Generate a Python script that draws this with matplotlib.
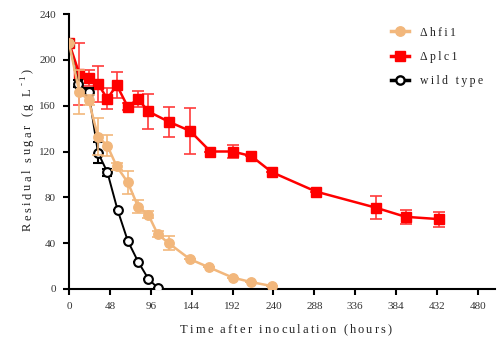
import matplotlib
matplotlib.use("Agg")
import matplotlib.pyplot as plt
from matplotlib.font_manager import FontProperties
from matplotlib.transforms import IdentityTransform
from matplotlib.lines import Line2D

# ---- data ----
plc1_t = [0, 12, 23, 34, 45, 56, 69, 81, 93, 117, 142, 166, 192, 214, 238, 290, 360, 395, 434]
plc1_v = [215, 188, 184, 179, 166, 178, 159, 166, 155, 146, 138, 120, 120, 116, 102, 85, 71, 63, 61]
plc1_e = [0, 27, 7, 16, 9, 11, 3, 7, 15, 13, 20, 0, 6, 0, 0, 0, 10, 6, 6.5]

hfi1_t = [0, 12, 23, 34, 45, 56, 69, 81, 93, 104, 117, 142, 164, 192, 214, 238]
hfi1_v = [215, 172, 165, 133, 125, 107, 93, 72, 65, 48, 40, 26, 19, 10, 6, 2.6]
hfi1_e = [0, 19, 4, 16, 9, 3, 10, 6, 3, 3, 6, 0, 0, 0, 0, 0]

wt_t = [0, 11, 23, 34, 45, 57, 69, 81, 93, 104]
wt_v = [215, 179, 172, 119, 102, 69, 42, 24, 9, 1]
wt_e = [0, 3, 3, 9, 3, 0, 0, 0, 0, 0]

x_ticks = [0, 48, 96, 144, 192, 240, 288, 336, 384, 432, 480]
y_ticks = [0, 40, 80, 120, 160, 200, 240]

labels = ["\u0394hfi1", "\u0394plc1", "wild type"]
x_label = "Time after inoculation (hours)"

RED = "#FF0000"
TAN = "#F2B77C"

SERIF = ["Liberation Serif", "DejaVu Serif"]

W, H = 497, 343
fig = plt.figure(figsize=(W / 100, H / 100), dpi=100)
ax = fig.add_axes([69 / W, 54 / H, 426 / W, 275 / H])

ax.errorbar(plc1_t, plc1_v, yerr=plc1_e, color=RED, lw=1.8, marker="s", ms=7.5,
            mec=RED, mfc=RED, ecolor="#FF3B3B", elinewidth=1.2, capsize=4,
            capthick=1.2, zorder=3, label=labels[1])
ax.errorbar(wt_t, wt_v, yerr=wt_e, color="black", lw=1.4, marker="o", ms=6.3,
            mec="black", mfc="white", mew=1.5, ecolor="black", elinewidth=1.5,
            capsize=3.5, capthick=2.5, zorder=4, label=labels[2])
ax.errorbar(hfi1_t, hfi1_v, yerr=hfi1_e, color=TAN, lw=1.8, marker="o", ms=6.8,
            mec=TAN, mfc=TAN, ecolor=TAN, elinewidth=1.2, capsize=4,
            capthick=1.2, zorder=5, label=labels[0])

ax.set_xlim(0, 500)
ax.set_ylim(0, 240)
ax.set_xticks(x_ticks)
ax.set_yticks(y_ticks)
for s in ["top", "right"]:
    ax.spines[s].set_visible(False)
for s in ["left", "bottom"]:
    ax.spines[s].set_linewidth(1.5)
    ax.spines[s].set_color("black")
ax.tick_params(direction="out", length=4.5, width=1.5, color="black",
               labelsize=8, labelcolor="#333333", pad=5)
for lab in ax.get_xticklabels() + ax.get_yticklabels():
    lab.set_family(SERIF)

# ---- legend ----
sp = "\u2009"
handles = [
    Line2D([], [], color=TAN, lw=2.5, marker="o", ms=6.8, mfc=TAN, mec=TAN),
    Line2D([], [], color=RED, lw=2.5, marker="s", ms=7, mfc=RED, mec=RED),
    Line2D([], [], color="black", lw=2.5, marker="o", ms=6, mfc="white", mec="black", mew=1.7),
]
leg = ax.legend(handles, [sp.join(l) for l in labels], loc="upper left",
                bbox_to_anchor=(0.73, 0.993), frameon=False, handlelength=1.6,
                handletextpad=0.9, labelspacing=1.05,
                prop=FontProperties(family=SERIF, size=8.5))
for t in leg.get_texts():
    t.set_color("#222222")

# ---- letter-spaced axis labels ----
renderer = fig.canvas.get_renderer()


def adv(text, prop):
    w1, _, _ = renderer.get_text_width_height_descent(text + "l", prop, ismath=False)
    w0, _, _ = renderer.get_text_width_height_descent("l", prop, ismath=False)
    return w1 - w0


def spaced(segments, center, tracking, rotation=0):
    # segments: list of (text, size, baseline shift in px)
    items = []
    pos = 0.0
    for text, size, shift in segments:
        prop = FontProperties(family=SERIF, size=size)
        for i, ch in enumerate(text):
            items.append((ch, prop, pos, shift))
            pos += adv(ch, prop) + tracking
    total = pos - tracking
    cx, cy = center
    for ch, prop, p, shift in items:
        if rotation == 0:
            x, y = cx - total / 2 + p, cy + shift
        else:
            x, y = cx - shift, cy - total / 2 + p
        fig.text(x, y, ch, fontproperties=prop, color="#222222",
                 transform=IdentityTransform(), rotation=rotation,
                 rotation_mode="anchor", ha="left", va="baseline")


spaced([(x_label, 9, 0)], (286, H - 333), 2.1)
spaced([("Residual sugar (g L", 9, 0), ("-1", 6.5, 6), (")", 9, 0)],
       (31, H - 150), 2.5, rotation=90)

fig.savefig("out.png", dpi=100)
